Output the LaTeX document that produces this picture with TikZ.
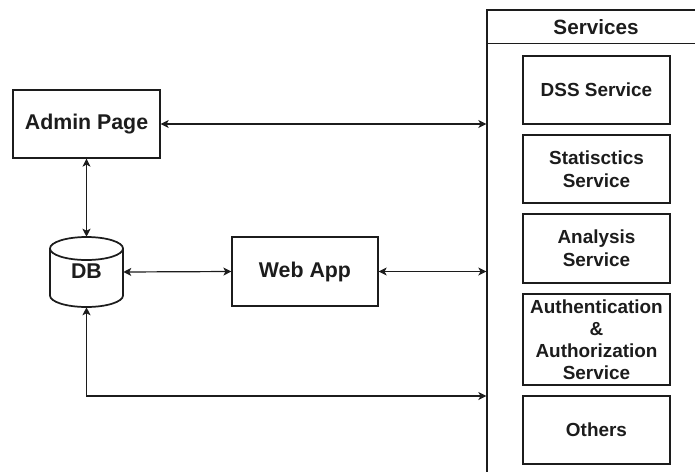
\documentclass[tikz,border=0pt]{standalone}
\usepackage{fontspec}
\setmainfont{Liberation Sans}
\usetikzlibrary{arrows.meta}
\definecolor{ink}{HTML}{1C1C1C}
\begin{document}
\begin{tikzpicture}[x=0.75pt,y=-0.75pt,
  box/.style={draw=ink,line width=0.9pt,rectangle,align=center,inner sep=0pt,
    text=ink,font=\bfseries\fontsize{16}{18}\selectfont},
  svcbox/.style={box,minimum width=110.25pt,minimum height=51pt,
    font=\bfseries\fontsize{14.2}{17}\selectfont},
  link/.style={draw=ink,line width=0.9pt,
    {Stealth[length=6pt,width=6pt,inset=1.5pt]}-{Stealth[length=6pt,width=6pt,inset=1.5pt]}}]
\useasboundingbox (0,0) rectangle (695,471);
\clip (0,0) rectangle (695,471);

% services container (runs past the right and bottom edges)
\node[box,minimum width=163.5pt,minimum height=367.5pt] (services) at (596,255) {};
\draw[draw=ink,line width=0.9pt] ([yshift=-25.5pt]services.north west) -- ([yshift=-25.5pt]services.north east);
\node[text=ink,font=\bfseries\fontsize{15.5}{18}\selectfont] (svctitle) at (596,27) {Services};

% individual services
\node[svcbox] (dss) at (596.5,90) {DSS Service};
\node[svcbox] (stats) at (596.5,169) {Statisctics\\Service};
\node[svcbox,minimum height=51.75pt] (analysis) at (596.5,248.5) {Analysis\\Service};
\node[svcbox,minimum height=68.25pt,font=\bfseries\fontsize{14.2}{16.5}\selectfont] (auth) at (596.5,339.5) {Authentication\\\&\\Authorization\\Service};
\node[svcbox] (others) at (596.5,430) {Others};

% clients
\node[box,minimum width=110.25pt,minimum height=51pt] (admin) at (86.5,124) {Admin Page};
\node[box,minimum width=109.5pt,minimum height=51.75pt] (web) at (305,271.5) {Web App};

% database cylinder (y axis points down, so angle 90 is the lower side)
\node[minimum width=54.75pt,minimum height=52.5pt,inner sep=0pt] (db) at (86.5,272) {};
\draw[draw=ink,line width=1.3pt,fill=white]
  (50,248.5) -- (50,295.5) arc[start angle=180,end angle=0,x radius=36.5,y radius=11.5]
  -- (123,248.5) arc[start angle=0,end angle=-180,x radius=36.5,y radius=11.5];
\draw[draw=ink,line width=1.3pt] (50,248.5) arc[start angle=180,end angle=0,x radius=36.5,y radius=11.5];
\node[text=ink,font=\bfseries\fontsize{16}{18}\selectfont] (dblabel) at (86.5,271) {DB};

% connectors
\coordinate (lowin) at (services.west |- 0,396);
\draw[link] (admin.east) -- (admin.east -| services.west);
\draw[link] (admin.south) -- (db.north);
\draw[link] (db.east) -- (web.west);
\draw[link] (web.east) -- (web.east -| services.west);
\draw[link] (db.south) |- (lowin);
\end{tikzpicture}
\end{document}
